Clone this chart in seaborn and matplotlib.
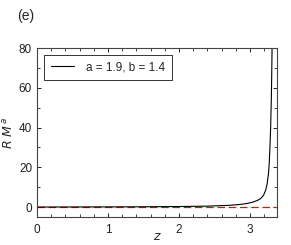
import matplotlib
matplotlib.use("Agg")
import matplotlib.pyplot as plt
import seaborn as sns
import pandas as pd
from matplotlib.ticker import MultipleLocator

sns.set_theme(style="ticks")
plt.rcParams['font.family'] = ['Arial', 'Liberation Sans', 'DejaVu Sans']

# valores
z = [0.0, 0.5, 1.0, 1.5, 2.0, 2.4, 2.7, 2.85, 2.95, 3.03, 3.1, 3.15, 3.19, 3.22, 3.24,
     3.26, 3.27, 3.28, 3.29, 3.30, 3.305, 3.31]
rma = [0.05, 0.08, 0.12, 0.18, 0.3, 0.5, 0.9, 1.3, 1.8, 2.4, 3.3, 4.3, 6.0, 8.5, 11.5,
       17.0, 22.0, 30.0, 40.0, 55.0, 66.0, 80.0]
rotulo = 'a = 1.9, b = 1.4'

df = pd.DataFrame({'z': z, 'rma': rma})

fig, ax = plt.subplots(figsize=(2.91, 2.45), dpi=100)
sns.lineplot(x='z', y='rma', data=df, ax=ax, color='black', linewidth=0.8, label=rotulo)
ax.axhline(0, color='red', linestyle='--', linewidth=0.9, dashes=(6, 3), zorder=1)

ax.set_xlim(0, 3.38)
ax.set_ylim(-5, 80)
ax.xaxis.set_major_locator(MultipleLocator(1))
ax.xaxis.set_minor_locator(MultipleLocator(0.2))
ax.yaxis.set_major_locator(MultipleLocator(20))
ax.yaxis.set_minor_locator(MultipleLocator(10))
ax.tick_params(which='both', direction='in', top=True, right=True, labelsize=8.5, colors='#222222')
ax.tick_params(axis='x', which='major', pad=5)
ax.tick_params(which='major', length=3, width=0.7)
ax.tick_params(which='minor', length=2, width=0.6)
for s in ax.spines.values():
    s.set_linewidth(0.8)
    s.set_color('#444444')

ax.set_xlabel('$z$', fontsize=9)
ax.xaxis.set_label_coords(0.5, -0.085)
ax.set_ylabel('$R\\ M^{\\,a}$', fontsize=9, labelpad=2)

leg = ax.legend(loc='upper left', fontsize=8.5, frameon=True, fancybox=False,
                edgecolor='black', handlelength=2.0, handletextpad=1.0,
                borderpad=0.55, borderaxespad=0.6)
leg.get_frame().set_linewidth(0.7)

fig.text(0.06, 0.92, '(e)', fontsize=10)
fig.subplots_adjust(left=0.127, right=0.952, top=0.804, bottom=0.114)
plt.savefig('out.png', dpi=100)
